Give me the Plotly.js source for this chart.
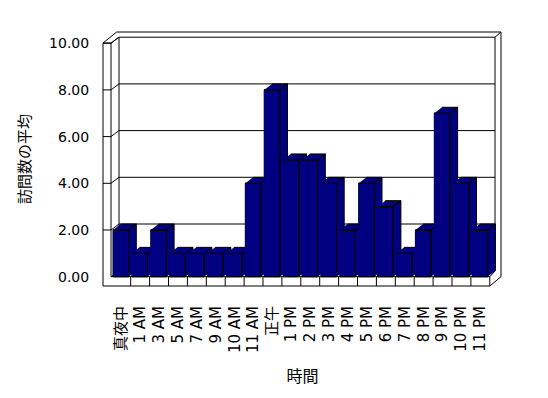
<!DOCTYPE html>
<html>
<head>
<meta charset="utf-8">
<script src="https://cdn.plot.ly/plotly-3.0.1.min.js"></script>
<style>html,body{margin:0;padding:0;background:#fff;}#chart{width:548px;height:398px;}</style>
</head>
<body>
<div id="chart"></div>
<script>
// ---- data ----
const categories = ['真夜中','1 AM','3 AM','5 AM','7 AM','9 AM','10 AM','11 AM','正午','1 PM','2 PM','3 PM','4 PM','5 PM','6 PM','7 PM','8 PM','9 PM','10 PM','11 PM'];
const visits = [2,1,2,1,1,1,1,4,8,5,5,4,2,4,3,1,2,7,4,2];
const yTickVals = [0,2,4,6,8,10];
const yTitle = '訪問数の平均';
const xTitle = '時間';

// ---- geometry (pixel calibration of the front plane) ----
const X0PX = 111.8, XU = 18.9;   // pixel of x=-0.5, pixels per category
const Y0PX = 276.7, YU = 23.35;  // pixel of y=0, pixels per unit
const L = 101, R = 504, T = 30, B = 288; // plot area in pixels
function xd(px){ return (px - X0PX) / XU - 0.5; }
function yd(py){ return (Y0PX - py) / YU; }
const DX = 7.7 / XU, DY = 6 / YU;          // bar depth
const BAR_OFF = 1.2 / XU, BAR_W = 15.6 / XU;
const NAVY = '#000080';

const traces = [];
// front faces as a bar trace
traces.push({
  type: 'bar',
  x: categories.map((c, i) => i),
  y: visits,
  width: BAR_W,
  offset: -0.5 + BAR_OFF,
  marker: {color: NAVY, line: {color: '#000', width: 1}},
  hoverinfo: 'skip', showlegend: false
});
// 3D faces per bar, in drawing order
visits.forEach((v, i) => {
  const xl = i - 0.5 + BAR_OFF, xr = xl + BAR_W;
  traces.push({
    type: 'scatter', mode: 'lines',
    x: [xr, xr, xr + DX, xr + DX, null,
        xl, xr, xr + DX, xl + DX, null,
        xl, xr, xr, xl],
    y: [0, v, v + DY, DY, null,
        v, v, v + DY, v + DY, null,
        0, 0, v, v],
    fill: 'toself', fillcolor: NAVY,
    line: {color: '#000', width: 1},
    hoverinfo: 'skip', showlegend: false
  });
});

// ---- decorative walls / floor ----
const shapes = [];
function P(px, py){ return xd(px) + ',' + yd(py); }
function seg(x1, y1, x2, y2){
  shapes.push({type: 'line', xref: 'x', yref: 'y', layer: 'below',
    x0: xd(x1), y0: yd(y1), x1: xd(x2), y1: yd(y2),
    line: {color: '#000', width: 1}});
}
shapes.push({type: 'path', xref: 'x', yref: 'y', layer: 'below',
  path: 'M' + P(103,43) + ' L' + P(116.7,32) + ' L' + P(501,32) + ' L' + P(501,276.7) +
        ' L' + P(489.8,286) + ' L' + P(103,286) + ' Z',
  fillcolor: '#fff', line: {color: '#000', width: 1}});
seg(103,43,111,43);
seg(111,43,111,276.7);
seg(111,43,119,37.2);
seg(119,37.2,495,37.2);
seg(495,37.2,501,32);
seg(495,37.2,495,271);
seg(119,37.2,119,271);
seg(119,271,495,271);
seg(111,276.7,119,271);
seg(489.8,276.7,495,271);
seg(111,276.7,489.8,276.7);
seg(489.8,276.7,489.8,286);
for (let k = 1; k < categories.length; k++) {
  const px = X0PX + k * XU;
  seg(px, 276.7, px, 286);
}
yTickVals.forEach(v => {
  const py = Y0PX - v * YU;
  if (v > 0) {
    seg(103, py, 111, py);
    seg(111, py, 119, py - 6);
  }
  if (v > 0 && v < 10) seg(119, py - 6, 495, py - 6);
});

const layout = {
  width: 548, height: 398,
  margin: {l: L, r: 548 - R, t: T, b: 398 - B, pad: 0},
  paper_bgcolor: '#fff', plot_bgcolor: 'rgba(0,0,0,0)',
  showlegend: false,
  font: {family: 'DejaVu Sans, "Noto Sans CJK JP", sans-serif', color: '#000'},
  xaxis: {
    range: [xd(L), xd(R)], fixedrange: true,
    tickmode: 'array', tickvals: categories.map((c, i) => i), ticktext: categories,
    tickangle: -90, ticks: 'outside', ticklen: 11, tickcolor: 'rgba(0,0,0,0)',
    tickfont: {size: 15, color: '#000', family: 'DejaVu Sans, "Noto Sans CJK JP", sans-serif'},
    showgrid: false, zeroline: false, showline: false,
    title: {text: xTitle, standoff: 18, font: {size: 16, color: '#000', family: '"Noto Sans CJK JP", sans-serif'}}
  },
  yaxis: {
    range: [yd(B), yd(T)], fixedrange: true,
    tickmode: 'array', tickvals: yTickVals, tickformat: '.2f',
    ticks: 'outside', ticklen: 8, tickcolor: 'rgba(0,0,0,0)',
    tickfont: {size: 14, color: '#000'},
    showgrid: false, zeroline: false, showline: false,
    title: {text: yTitle, standoff: 14, font: {size: 15, color: '#000', family: '"Noto Sans CJK JP", sans-serif'}}
  },
  shapes: shapes
};

Plotly.newPlot('chart', traces, layout, {displayModeBar: false, staticPlot: true});
</script>
</body>
</html>
